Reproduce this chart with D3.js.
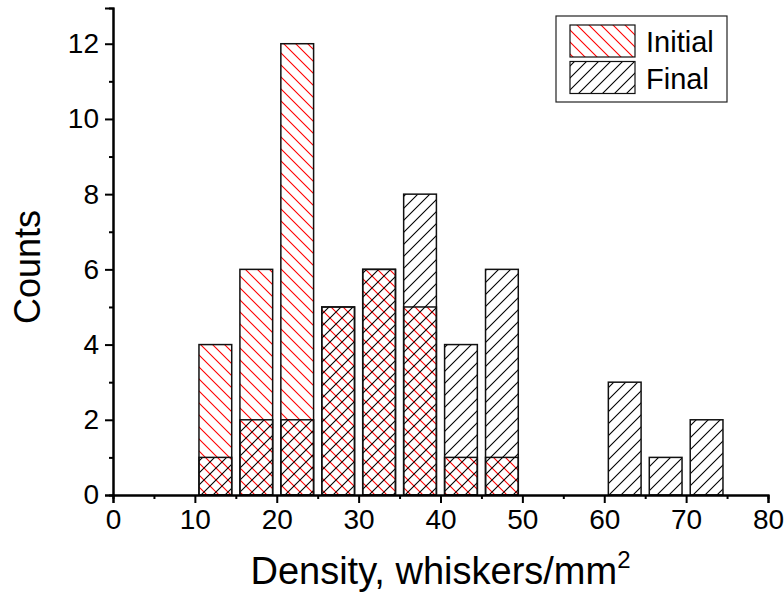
<!DOCTYPE html>
<html>
<head>
<meta charset="utf-8">
<script src="https://cdn.jsdelivr.net/npm/d3@7"></script>
<style>
  html, body { margin: 0; padding: 0; background: #fff; }
  svg { display: block; font-family: "Liberation Sans", Arial, sans-serif; }
</style>
</head>
<body>
<svg id="chart" width="784" height="592"></svg>
<script>
// Histogram bins (centre of each 5-unit density bin)
const binCenters   = [12.5, 17.5, 22.5, 27.5, 32.5, 37.5, 42.5, 47.5, 52.5, 57.5, 62.5, 67.5, 72.5];
const initialCounts = [4, 6, 12, 5, 6, 5, 1, 1, 0, 0, 0, 0, 0];
const finalCounts   = [1, 2, 2, 5, 6, 8, 4, 6, 0, 0, 3, 1, 2];
const seriesNames  = ["Initial", "Final"];
const xTicks = [0, 10, 20, 30, 40, 50, 60, 70, 80];
const yTicks = [0, 2, 4, 6, 8, 10, 12];
const barWidth = 4;

const svg = d3.select("#chart");
const x = d3.scaleLinear().domain([0, 80]).range([113, 768]);
const y = d3.scaleLinear().domain([0, 12.95]).range([495, 8]);

// Hatch patterns
const defs = svg.append("defs");
function hatch(id, color, dir) {
  const s = 12;
  const p = defs.append("pattern")
    .attr("id", id).attr("patternUnits", "userSpaceOnUse")
    .attr("width", s).attr("height", s);
  const d = dir === "back"
    ? `M0,0 L${s},${s} M${-s/2},${s/2} L${s/2},${s*1.5} M${s/2},${-s/2} L${s*1.5},${s/2}`
    : `M0,${s} L${s},0 M${-s/2},${s/2} L${s/2},${-s/2} M${s/2},${s*1.5} L${s*1.5},${s/2}`;
  p.append("path").attr("d", d).attr("stroke", color).attr("stroke-width", 1.1)
    .attr("fill", "none");
}
hatch("hInitial", "#ff0000", "back");
hatch("hFinal", "#000000", "fwd");

function drawBars(counts, patternId) {
  const data = binCenters.map((c, i) => ({ c, v: counts[i] })).filter(d => d.v > 0);
  svg.append("g").selectAll("rect").data(data).join("rect")
    .attr("x", d => x(d.c - barWidth / 2))
    .attr("width", d => x(d.c + barWidth / 2) - x(d.c - barWidth / 2))
    .attr("y", d => y(d.v))
    .attr("height", d => y(0) - y(d.v))
    .attr("fill", `url(#${patternId})`)
    .attr("stroke", "#111")
    .attr("stroke-width", 1.5);
}
drawBars(initialCounts, "hInitial");
drawBars(finalCounts, "hFinal");

// Axes
const xAxis = d3.axisBottom(x).tickValues(xTicks).tickSize(8).tickPadding(6).tickFormat(d3.format("d"));
const xMinor = d3.axisBottom(x).tickValues(d3.range(5, 80, 10)).tickSize(4).tickFormat("");
const yAxis = d3.axisLeft(y).tickValues(yTicks).tickSize(8).tickPadding(6).tickFormat(d3.format("d"));
const yMinor = d3.axisLeft(y).tickValues(d3.range(1, 13, 2)).tickSize(4).tickFormat("");

function styleAxis(g) {
  g.select(".domain").attr("stroke", "#000").attr("stroke-width", 2);
  g.selectAll(".tick line").attr("stroke", "#000").attr("stroke-width", 2);
  g.selectAll(".tick text").attr("fill", "#000")
    .style("font-family", "'Liberation Sans', Arial, sans-serif").style("font-size", "28px");
}
svg.append("g").attr("transform", `translate(0,${y(0)})`).call(xMinor).call(styleAxis);
svg.append("g").attr("transform", `translate(0,${y(0)})`).call(xAxis).call(styleAxis);
svg.append("g").attr("transform", `translate(${x(0)},0)`).call(yMinor).call(styleAxis);
svg.append("g").attr("transform", `translate(${x(0)},0)`).call(yAxis).call(styleAxis);

// Axis titles
const xt = svg.append("text").attr("x", (x(0) + x(80)) / 2).attr("y", 584)
  .attr("text-anchor", "middle").style("font-size", "38px");
xt.append("tspan").text("Density, whiskers/mm");
xt.append("tspan").attr("dy", -16).style("font-size", "24px").text("2");

svg.append("text").attr("transform", "translate(40,267) rotate(-90)")
  .attr("text-anchor", "middle").style("font-size", "36px").text("Counts");

// Legend
const lg = svg.append("g");
lg.append("rect").attr("x", 556).attr("y", 16).attr("width", 171).attr("height", 86)
  .attr("fill", "#fff").attr("stroke", "#222").attr("stroke-width", 1.2);
const ids = ["hInitial", "hFinal"];
seriesNames.forEach((name, i) => {
  const top = 25 + i * 36.5;
  lg.append("rect").attr("x", 570).attr("y", top).attr("width", 65).attr("height", 32)
    .attr("fill", `url(#${ids[i]})`).attr("stroke", "#111").attr("stroke-width", 1.2);
  lg.append("text").attr("x", 646).attr("y", top + 27)
    .style("font-size", "29px").text(name);
});
</script>
</body>
</html>
